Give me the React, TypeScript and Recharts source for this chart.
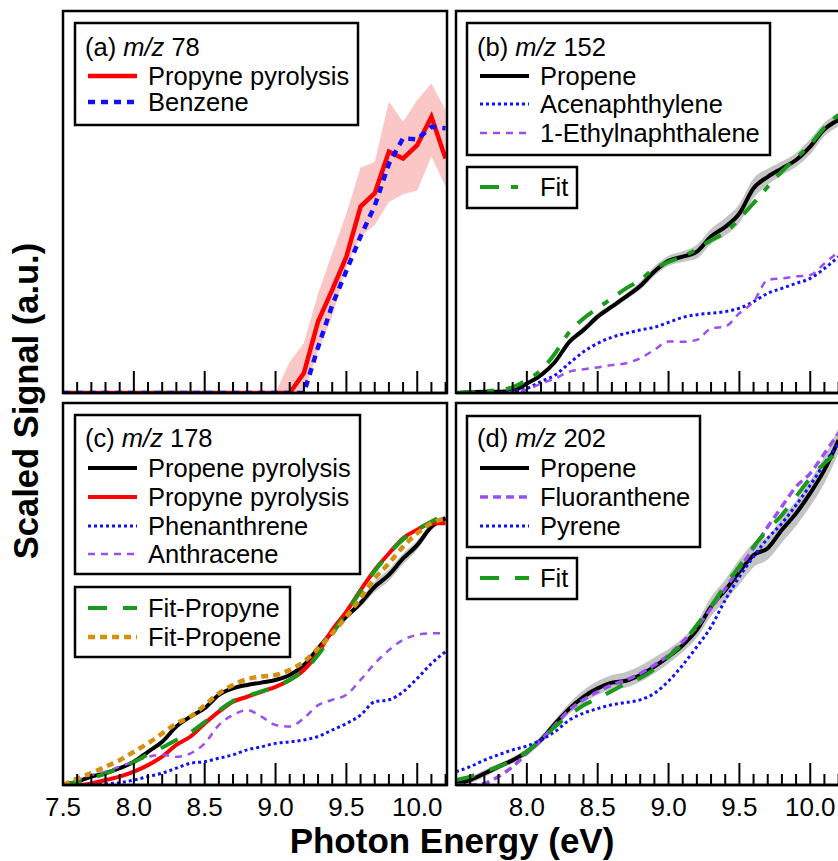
import React from 'react';
import { ComposedChart, Line, Area, XAxis, YAxis } from 'recharts';

const FONT = '"Liberation Sans", Arial, Helvetica, sans-serif';

// Photon energy grid (eV)
const energy = [7.5, 7.6, 7.7, 7.8, 7.9, 8.0, 8.1, 8.2, 8.3, 8.4, 8.5, 8.6, 8.7, 8.8, 8.9, 9.0, 9.1, 9.2, 9.3, 9.4, 9.5, 9.6, 9.7, 9.8, 9.9, 10.0, 10.1, 10.2];
const xTicks = [7.5, 7.6, 7.7, 7.8, 7.9, 8.0, 8.1, 8.2, 8.3, 8.4, 8.5, 8.6, 8.7, 8.8, 8.9, 9.0, 9.1, 9.2, 9.3, 9.4, 9.5, 9.6, 9.7, 9.8, 9.9, 10.0, 10.1, 10.2];
const xDomain: [number, number] = [7.5, 10.21];

// (a) m/z 78
const aPropyne = [0, 0, 0, 0, 0, 0, 0, 0, 0, 0, 0, 0, 0, 0, 0, 0, 0, 0.052, 0.187, 0.27, 0.357, 0.488, 0.523, 0.632, 0.614, 0.649, 0.723, 0.614];
const aBenzene = [0, 0, 0, 0, 0, 0, 0, 0, 0, 0, 0, 0, 0, 0, 0, 0, 0, 0, 0.12, 0.23, 0.32, 0.41, 0.49, 0.6, 0.667, 0.664, 0.697, 0.693];
const aBandLow = [0, 0, 0, 0, 0, 0, 0, 0, 0, 0, 0, 0, 0, 0, 0, 0, 0, 0, 0.11, 0.2, 0.33, 0.41, 0.44, 0.5, 0.52, 0.53, 0.62, 0.54];
const aBandHigh = [0, 0, 0, 0, 0, 0, 0, 0, 0, 0, 0, 0, 0, 0, 0, 0, 0.082, 0.13, 0.26, 0.366, 0.47, 0.59, 0.605, 0.763, 0.71, 0.767, 0.81, 0.74];

// (b) m/z 152
const bPropene = [0, 0.002, 0.003, 0.003, 0.006, 0.025, 0.047, 0.082, 0.134, 0.165, 0.2, 0.226, 0.252, 0.28, 0.318, 0.346, 0.357, 0.37, 0.41, 0.435, 0.47, 0.536, 0.566, 0.588, 0.61, 0.645, 0.69, 0.715];
const bAcenaphthylene = [0, 0, 0, 0, 0.003, 0.012, 0.03, 0.047, 0.078, 0.108, 0.13, 0.146, 0.156, 0.165, 0.172, 0.185, 0.198, 0.205, 0.209, 0.213, 0.222, 0.239, 0.261, 0.274, 0.287, 0.3, 0.326, 0.357];
const bEthylnaphthalene = [0, 0, 0, 0, 0.003, 0.008, 0.025, 0.038, 0.056, 0.062, 0.067, 0.073, 0.078, 0.091, 0.113, 0.135, 0.134, 0.139, 0.169, 0.174, 0.209, 0.239, 0.296, 0.3, 0.305, 0.309, 0.339, 0.37];
const bFit = [0, 0.002, 0.004, 0.008, 0.015, 0.034, 0.06, 0.104, 0.16, 0.195, 0.222, 0.248, 0.274, 0.296, 0.326, 0.343, 0.357, 0.377, 0.4, 0.42, 0.457, 0.497, 0.54, 0.58, 0.615, 0.65, 0.695, 0.728];
const bBandLow = [0, 0, 0, 0, 0.003, 0.02, 0.042, 0.076, 0.127, 0.157, 0.192, 0.219, 0.245, 0.27, 0.306, 0.333, 0.343, 0.352, 0.39, 0.412, 0.445, 0.51, 0.545, 0.57, 0.592, 0.625, 0.672, 0.698];
const bBandHigh = [0.002, 0.004, 0.006, 0.006, 0.01, 0.03, 0.052, 0.088, 0.142, 0.174, 0.209, 0.234, 0.26, 0.291, 0.331, 0.359, 0.371, 0.388, 0.43, 0.458, 0.495, 0.562, 0.587, 0.606, 0.628, 0.665, 0.708, 0.732];

// (c) m/z 178
const cPropene = [0, 0.009, 0.022, 0.031, 0.044, 0.061, 0.087, 0.113, 0.153, 0.179, 0.201, 0.236, 0.253, 0.262, 0.268, 0.275, 0.288, 0.314, 0.358, 0.401, 0.441, 0.476, 0.519, 0.55, 0.593, 0.628, 0.676, 0.698];
const cPropyne = [0, 0, 0.004, 0.013, 0.022, 0.035, 0.052, 0.074, 0.105, 0.127, 0.161, 0.192, 0.218, 0.231, 0.244, 0.257, 0.275, 0.301, 0.345, 0.406, 0.454, 0.51, 0.563, 0.606, 0.646, 0.668, 0.685, 0.685];
const cPhenanthrene = [0, 0, 0, 0.003, 0.006, 0.013, 0.022, 0.031, 0.044, 0.057, 0.061, 0.07, 0.079, 0.092, 0.1, 0.109, 0.113, 0.118, 0.127, 0.144, 0.161, 0.183, 0.218, 0.223, 0.244, 0.279, 0.318, 0.349];
const cAnthracene = [0, 0.013, 0.026, 0.035, 0.048, 0.061, 0.074, 0.079, 0.074, 0.083, 0.109, 0.157, 0.183, 0.196, 0.179, 0.157, 0.153, 0.175, 0.209, 0.223, 0.236, 0.275, 0.318, 0.353, 0.38, 0.393, 0.397, 0.397];
const cFitPropyne = [0, 0.008, 0.018, 0.03, 0.045, 0.06, 0.08, 0.098, 0.118, 0.138, 0.165, 0.195, 0.22, 0.233, 0.245, 0.258, 0.275, 0.3, 0.34, 0.395, 0.452, 0.507, 0.56, 0.605, 0.643, 0.668, 0.69, 0.706];
const cFitPropene = [0, 0.017, 0.031, 0.048, 0.065, 0.087, 0.109, 0.135, 0.161, 0.179, 0.209, 0.24, 0.262, 0.277, 0.284, 0.288, 0.301, 0.323, 0.358, 0.397, 0.441, 0.489, 0.541, 0.58, 0.624, 0.659, 0.685, 0.698];
const cBandLow = [0, 0.009, 0.022, 0.031, 0.044, 0.061, 0.087, 0.113, 0.153, 0.179, 0.201, 0.236, 0.253, 0.262, 0.268, 0.275, 0.288, 0.314, 0.355, 0.396, 0.434, 0.466, 0.505, 0.535, 0.578, 0.616, 0.668, 0.69];
const cBandHigh = [0, 0.009, 0.022, 0.031, 0.044, 0.061, 0.087, 0.113, 0.153, 0.179, 0.201, 0.236, 0.253, 0.262, 0.268, 0.275, 0.288, 0.314, 0.361, 0.406, 0.448, 0.486, 0.533, 0.565, 0.606, 0.64, 0.684, 0.706];

// (d) m/z 202
const dPropene = [0.004, 0.013, 0.03, 0.048, 0.065, 0.087, 0.118, 0.161, 0.2, 0.231, 0.253, 0.268, 0.273, 0.288, 0.31, 0.336, 0.366, 0.406, 0.467, 0.51, 0.558, 0.602, 0.62, 0.668, 0.711, 0.764, 0.825, 0.903];
const dFluoranthene = [0, 0, 0.004, 0.022, 0.048, 0.083, 0.118, 0.157, 0.196, 0.223, 0.244, 0.262, 0.275, 0.292, 0.314, 0.34, 0.375, 0.414, 0.462, 0.514, 0.567, 0.62, 0.676, 0.729, 0.781, 0.816, 0.868, 0.921];
const dPyrene = [0.035, 0.048, 0.065, 0.079, 0.092, 0.102, 0.118, 0.14, 0.17, 0.188, 0.2, 0.21, 0.216, 0.223, 0.24, 0.272, 0.314, 0.362, 0.414, 0.484, 0.545, 0.598, 0.646, 0.685, 0.733, 0.785, 0.842, 0.894];
const dFit = [0.013, 0.022, 0.035, 0.048, 0.065, 0.087, 0.118, 0.153, 0.183, 0.209, 0.226, 0.246, 0.266, 0.28, 0.303, 0.336, 0.371, 0.419, 0.467, 0.523, 0.572, 0.624, 0.668, 0.707, 0.755, 0.803, 0.842, 0.873];
const dBandLow = [0, 0.005, 0.021, 0.04, 0.057, 0.078, 0.108, 0.15, 0.187, 0.215, 0.236, 0.25, 0.255, 0.27, 0.292, 0.318, 0.348, 0.386, 0.442, 0.482, 0.525, 0.57, 0.59, 0.635, 0.678, 0.73, 0.79, 0.87];
const dBandHigh = [0.008, 0.021, 0.039, 0.056, 0.073, 0.096, 0.128, 0.172, 0.214, 0.248, 0.272, 0.288, 0.296, 0.312, 0.334, 0.356, 0.384, 0.426, 0.492, 0.538, 0.59, 0.634, 0.65, 0.7, 0.744, 0.798, 0.86, 0.936];

const C = {
  black: '#000000',
  red: '#ff0000',
  blue: '#1010ff',
  purple: '#9b4ff2',
  green: '#1a9a1a',
  orange: '#d4900e',
  gray: '#c4c4c4',
  pink: '#fbc6c6',
};

type Spec = { key: string; data: number[]; color: string; width: number; dash?: string; curve: 'linear' | 'monotone' };

const seriesA: Spec[] = [
  { key: 'propyne', data: aPropyne, color: C.red, width: 4.5, curve: 'linear' },
  { key: 'benzene', data: aBenzene, color: C.blue, width: 4.5, dash: '7 6', curve: 'linear' },
];
const seriesB: Spec[] = [
  { key: 'propene', data: bPropene, color: C.black, width: 4, curve: 'monotone' },
  { key: 'acen', data: bAcenaphthylene, color: C.blue, width: 3, dash: '3 3', curve: 'monotone' },
  { key: 'ethyl', data: bEthylnaphthalene, color: C.purple, width: 2.5, dash: '7 6', curve: 'monotone' },
  { key: 'fit', data: bFit, color: C.green, width: 4, dash: '19 12 7 12', curve: 'monotone' },
];
const seriesC: Spec[] = [
  { key: 'propene', data: cPropene, color: C.black, width: 4, curve: 'monotone' },
  { key: 'propyne', data: cPropyne, color: C.red, width: 4, curve: 'monotone' },
  { key: 'phen', data: cPhenanthrene, color: C.blue, width: 3, dash: '3 3', curve: 'monotone' },
  { key: 'anth', data: cAnthracene, color: C.purple, width: 2.5, dash: '7 6', curve: 'monotone' },
  { key: 'fitPropyne', data: cFitPropyne, color: C.green, width: 4, dash: '19 16', curve: 'monotone' },
  { key: 'fitPropene', data: cFitPropene, color: C.orange, width: 4.5, dash: '7 5', curve: 'monotone' },
];
const seriesD: Spec[] = [
  { key: 'propene', data: dPropene, color: C.black, width: 4, curve: 'monotone' },
  { key: 'fluor', data: dFluoranthene, color: C.purple, width: 3.5, dash: '8 5', curve: 'monotone' },
  { key: 'pyrene', data: dPyrene, color: C.blue, width: 3, dash: '3 3', curve: 'monotone' },
  { key: 'fit', data: dFit, color: C.green, width: 4, dash: '19 16', curve: 'monotone' },
];

function makeRows(series: Spec[], low: number[], high: number[]) {
  return energy.map((e, i) => {
    const row: Record<string, unknown> = { e, band: [low[i], high[i]] };
    series.forEach((s) => {
      row[s.key] = s.data[i];
    });
    return row;
  });
}

function makeTick(labelMin: number | null) {
  return (props: any) => {
    const { x, y, payload } = props;
    const v = Number(payload.value);
    const tenth = Math.round(v * 10);
    const major = tenth % 5 === 0;
    const len = major ? 22 : 11;
    const showLabel = labelMin !== null && major && tenth >= Math.round(labelMin * 10) && tenth <= 100;
    return (
      <g>
        <line x1={x} x2={x} y1={y} y2={y - len} stroke="#000" strokeWidth={2} />
        {showLabel ? (
          <text x={x} y={y + 31} textAnchor="middle" fontSize={26} fontFamily={FONT} fill="#000">
            {v.toFixed(1)}
          </text>
        ) : null}
      </g>
    );
  };
}

const PW = 384;
const PH = 382;
const SIDE = 30;

function Panel(props: {
  left: number;
  top: number;
  series: Spec[];
  low: number[];
  high: number[];
  bandColor: string;
  labelMin: number | null;
}) {
  const { left, top, series, low, high, bandColor, labelMin } = props;
  const rows = makeRows(series, low, high);
  return (
    <div style={{ position: 'absolute', left: left - SIDE, top: top - 2 }}>
      <ComposedChart
        width={PW + 2 * SIDE}
        height={PH + 2 + 48}
        data={rows}
        margin={{ top: 2, right: SIDE, bottom: 0, left: SIDE }}
      >
        <XAxis
          dataKey="e"
          type="number"
          domain={xDomain}
          ticks={xTicks}
          interval={0}
          allowDataOverflow
          tick={makeTick(labelMin)}
          tickLine={false}
          tickSize={0}
          tickMargin={0}
          height={48}
          axisLine={{ stroke: '#000', strokeWidth: 2.5 }}
        />
        <YAxis type="number" domain={[0, 1]} allowDataOverflow hide />
        <Area
          dataKey="band"
          type={series[0].curve}
          stroke="none"
          fill={bandColor}
          fillOpacity={1}
          isAnimationActive={false}
          dot={false}
          activeDot={false}
        />
        {series.map((s) => (
          <Line
            key={s.key}
            dataKey={s.key}
            type={s.curve}
            stroke={s.color}
            strokeWidth={s.width}
            strokeDasharray={s.dash}
            dot={false}
            activeDot={false}
            isAnimationActive={false}
          />
        ))}
      </ComposedChart>
    </div>
  );
}

type Row = { label: string; spec?: Spec };

function LegendBox(props: {
  x: number;
  y: number;
  w: number;
  h: number;
  title?: { prefix: string; mz: string };
  titleY?: number;
  rows: Row[];
  rowYs: number[];
}) {
  const { x, y, w, h, title, titleY, rows, rowYs } = props;
  const lx1 = x + 13;
  const lx2 = x + 62;
  const tx = x + 73;
  return (
    <g>
      <rect x={x} y={y} width={w} height={h} fill="#fff" stroke="#000" strokeWidth={2.5} />
      {title && titleY !== undefined ? (
        <text x={x + 10} y={titleY + 9} fontSize={25.5} fontFamily={FONT} fill="#000">
          {title.prefix}
          <tspan fontStyle="italic">m/z</tspan>
          {' ' + title.mz}
        </text>
      ) : null}
      {rows.map((r, i) => (
        <g key={r.label}>
          {r.spec ? (
            <line
              x1={lx1}
              x2={lx2}
              y1={rowYs[i]}
              y2={rowYs[i]}
              stroke={r.spec.color}
              strokeWidth={r.spec.width}
              strokeDasharray={r.spec.dash}
            />
          ) : null}
          <text x={tx} y={rowYs[i] + 9} fontSize={25.5} fontFamily={FONT} fill="#000">
            {r.label}
          </text>
        </g>
      ))}
    </g>
  );
}

const PANELS = [
  { x: 63, y: 11 },
  { x: 456, y: 11 },
  { x: 63, y: 403 },
  { x: 456, y: 403 },
];

export default function App() {
  return (
    <div
      style={{
        position: 'absolute',
        left: 0,
        top: 0,
        width: 838,
        height: 861,
        overflow: 'hidden',
        background: '#fff',
        fontFamily: FONT,
      }}
    >
      <Panel left={63} top={11} series={seriesA} low={aBandLow} high={aBandHigh} bandColor={C.pink} labelMin={null} />
      <Panel left={456} top={11} series={seriesB} low={bBandLow} high={bBandHigh} bandColor={C.gray} labelMin={null} />
      <Panel left={63} top={403} series={seriesC} low={cBandLow} high={cBandHigh} bandColor={C.gray} labelMin={7.5} />
      <Panel left={456} top={403} series={seriesD} low={dBandLow} high={dBandHigh} bandColor={C.gray} labelMin={8.0} />
      <svg width={838} height={861} style={{ position: 'absolute', left: 0, top: 0, pointerEvents: 'none' }}>
        {PANELS.map((p) => (
          <rect key={`${p.x}-${p.y}`} x={p.x} y={p.y} width={PW} height={PH} fill="none" stroke="#000" strokeWidth={2.5} />
        ))}
        <LegendBox
          x={75}
          y={23}
          w={283}
          h={102}
          title={{ prefix: '(a) ', mz: '78' }}
          titleY={47}
          rows={[
            { label: 'Propyne pyrolysis', spec: seriesA[0] },
            { label: 'Benzene', spec: seriesA[1] },
          ]}
          rowYs={[76, 102]}
        />
        <LegendBox
          x={467}
          y={23}
          w={303}
          h={132}
          title={{ prefix: '(b) ', mz: '152' }}
          titleY={47}
          rows={[
            { label: 'Propene', spec: seriesB[0] },
            { label: 'Acenaphthylene', spec: seriesB[1] },
            { label: '1-Ethylnaphthalene', spec: seriesB[2] },
          ]}
          rowYs={[76, 104, 133]}
        />
        <LegendBox x={467} y={167} w={110} h={41} rows={[{ label: 'Fit', spec: seriesB[3] }]} rowYs={[187]} />
        <LegendBox
          x={75}
          y={415}
          w={285}
          h={159}
          title={{ prefix: '(c) ', mz: '178' }}
          titleY={438}
          rows={[
            { label: 'Propene pyrolysis', spec: seriesC[0] },
            { label: 'Propyne pyrolysis', spec: seriesC[1] },
            { label: 'Phenanthrene', spec: seriesC[2] },
            { label: 'Anthracene', spec: seriesC[3] },
          ]}
          rowYs={[468, 497, 526, 554]}
        />
        <LegendBox
          x={75}
          y={587}
          w={215}
          h={70}
          rows={[
            { label: 'Fit-Propyne', spec: seriesC[4] },
            { label: 'Fit-Propene', spec: seriesC[5] },
          ]}
          rowYs={[608, 637]}
        />
        <LegendBox
          x={467}
          y={416}
          w={233}
          h={131}
          title={{ prefix: '(d) ', mz: '202' }}
          titleY={438}
          rows={[
            { label: 'Propene', spec: seriesD[0] },
            { label: 'Fluoranthene', spec: seriesD[1] },
            { label: 'Pyrene', spec: seriesD[2] },
          ]}
          rowYs={[468, 497, 526]}
        />
        <LegendBox x={467} y={558} w={110} h={41} rows={[{ label: 'Fit', spec: seriesD[3] }]} rowYs={[578]} />
        <text x={452} y={853} textAnchor="middle" fontSize={35} fontWeight="bold" fontFamily={FONT} fill="#000">
          Photon Energy (eV)
        </text>
        <text
          transform="translate(38,401) rotate(-90)"
          textAnchor="middle"
          fontSize={34.5}
          fontWeight="bold"
          fontFamily={FONT}
          fill="#000"
        >
          Scaled Signal (a.u.)
        </text>
      </svg>
    </div>
  );
}
